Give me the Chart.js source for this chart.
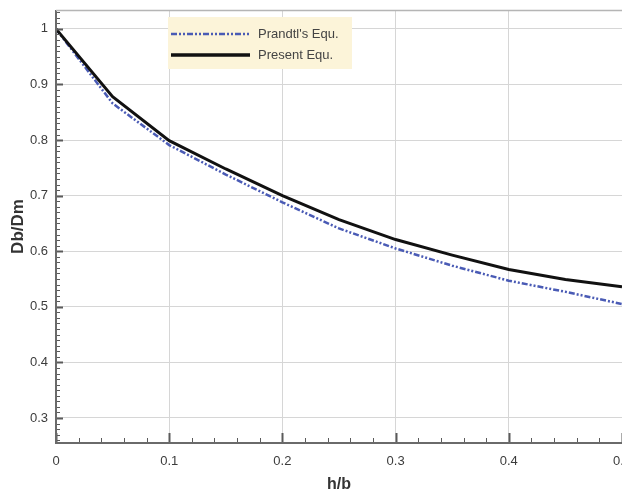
<!DOCTYPE html>
<html>
<head>
<meta charset="utf-8">
<script src="https://cdn.jsdelivr.net/npm/chart.js@4"></script>
<style>
html,body{margin:0;padding:0;background:#fff;overflow:hidden;}
#wrap{position:relative;width:622px;height:489px;}
</style>
</head>
<body>
<div id="wrap"><canvas id="c" width="622" height="489"></canvas></div>
<script>
const hOverB = [0, 0.05, 0.1, 0.15, 0.2, 0.25, 0.3, 0.35, 0.4, 0.45, 0.5];
const prandtl = [1.0, 0.866, 0.791, 0.738, 0.688, 0.641, 0.605, 0.574, 0.547, 0.527, 0.505];
const present = [1.0, 0.878, 0.799, 0.748, 0.700, 0.657, 0.621, 0.593, 0.567, 0.549, 0.536];
const seriesNames = ["Prandtl's Equ.", "Present Equ."];
const xTitle = "h/b";
const yTitle = "Db/Dm";

const FONT = "'Liberation Sans', Arial, sans-serif";
const toPts = (ys) => ys.map((y, i) => ({x: hOverB[i], y: y}));
const fmt = (v) => String(Number(v.toFixed(2)));

const minorTicks = {
  id: 'minorTicks',
  afterDatasetsDraw(chart) {
    const ctx = chart.ctx, x = chart.scales.x, y = chart.scales.y, a = chart.chartArea;
    ctx.save();
    ctx.strokeStyle = '#5a5a5a';
    for (let k = 0; k <= 25; k++) {
      const v = k * 0.02;
      const px = Math.round(x.getPixelForValue(v)) + 0.5;
      if (px > a.right + 1) continue;
      const major = k % 5 === 0;
      ctx.lineWidth = major ? 2 : 1;
      ctx.beginPath();
      ctx.moveTo(px, a.bottom);
      ctx.lineTo(px, a.bottom - (major ? 10 : 5));
      ctx.stroke();
    }
    for (let k = 26; k <= 103; k++) {
      const v = k * 0.01;
      const py = Math.round(y.getPixelForValue(v)) + 0.5;
      if (py < a.top || py > a.bottom) continue;
      const major = k % 10 === 0;
      ctx.lineWidth = major ? 2 : 1;
      ctx.beginPath();
      ctx.moveTo(a.left, py);
      ctx.lineTo(a.left + (major ? 7 : 4), py);
      ctx.stroke();
    }
    ctx.strokeStyle = '#6a6a6a';
    ctx.lineWidth = 2;
    ctx.beginPath();
    ctx.moveTo(a.left, a.top);
    ctx.lineTo(a.left, a.bottom);
    ctx.lineTo(a.right, a.bottom);
    ctx.stroke();
    ctx.strokeStyle = '#b5b5b5';
    ctx.lineWidth = 1.5;
    ctx.beginPath();
    ctx.moveTo(a.left, a.top + 0.5);
    ctx.lineTo(a.right, a.top + 0.5);
    ctx.stroke();
    ctx.restore();
  }
};

const legendBox = {
  id: 'legendBox',
  afterDraw(chart) {
    const ctx = chart.ctx;
    ctx.save();
    ctx.fillStyle = '#fcf4d9';
    ctx.fillRect(168, 17, 184, 52);
    const rows = [
      {y: 34, color: '#4a5bb5', width: 2.5, dash: [6, 2, 2, 2, 2, 2]},
      {y: 55, color: '#111111', width: 3.5, dash: []}
    ];
    rows.forEach((r, i) => {
      ctx.strokeStyle = r.color;
      ctx.lineWidth = r.width;
      ctx.setLineDash(r.dash);
      ctx.beginPath();
      ctx.moveTo(171, r.y);
      ctx.lineTo(250, r.y);
      ctx.stroke();
      ctx.setLineDash([]);
      ctx.fillStyle = '#444444';
      ctx.font = '13px ' + FONT;
      ctx.textBaseline = 'middle';
      ctx.fillText(seriesNames[i], 258, r.y);
    });
    ctx.restore();
  }
};

new Chart(document.getElementById('c'), {
  type: 'line',
  data: {
    datasets: [
      {label: seriesNames[0], data: toPts(prandtl), borderColor: '#4a5bb5', borderWidth: 2.5,
       borderDash: [6, 2, 2, 2, 2, 2], pointRadius: 0, tension: 0, fill: false, order: 2},
      {label: seriesNames[1], data: toPts(present), borderColor: '#111111', borderWidth: 3,
       pointRadius: 0, tension: 0, fill: false, order: 1}
    ]
  },
  options: {
    responsive: false,
    animation: false,
    events: [],
    layout: {padding: {top: 10, right: 0, left: 0, bottom: 0}},
    plugins: {legend: {display: false}, tooltip: {enabled: false}},
    scales: {
      x: {
        type: 'linear', min: 0, max: 0.5,
        afterFit(s) { s.height = 46; s.paddingRight = 0; s.paddingLeft = 0; },
        grid: {color: '#d6d6d6', lineWidth: 1, drawTicks: false},
        border: {display: false},
        ticks: {stepSize: 0.1, padding: 11, color: '#3c3c3c', font: {family: FONT, size: 13},
                includeBounds: false, maxRotation: 0, autoSkip: false, callback: fmt},
        title: {display: true, text: xTitle, color: '#333', font: {family: FONT, size: 16, weight: 'bold'},
                padding: {top: 0, bottom: -5}}
      },
      y: {
        type: 'linear', min: 0.255, max: 1.034,
        afterFit(s) { s.width = 56; s.paddingTop = 0; s.paddingBottom = 0; },
        grid: {color: '#d6d6d6', lineWidth: 1, drawTicks: false},
        border: {display: false},
        ticks: {stepSize: 0.1, padding: 8, color: '#3c3c3c', font: {family: FONT, size: 13},
                includeBounds: false, autoSkip: false, callback: fmt},
        title: {display: true, text: yTitle, color: '#333', font: {family: FONT, size: 17, weight: 'bold'},
                padding: {top: 8, bottom: 2}}
      }
    }
  },
  plugins: [minorTicks, legendBox]
});
</script>
</body>
</html>
